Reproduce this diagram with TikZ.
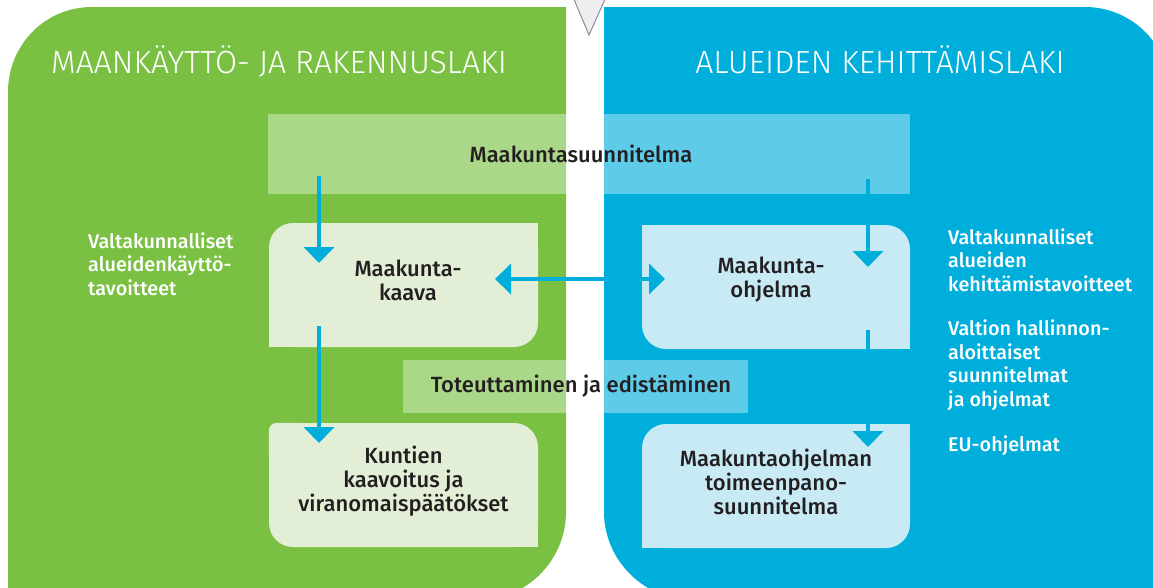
\documentclass[tikz,border=0pt]{standalone}
\usepackage{fontspec}
\setmainfont{Fira Sans}
\IfFontExistsTF{Fira Sans Medium}{\newfontfamily\bodyf{Fira Sans Medium}}{\newfontfamily\bodyf{Fira Sans}[FakeBold=0.6]}
\IfFontExistsTF{Fira Sans Light}{\newfontfamily\titlef{Fira Sans Light}}{\newfontfamily\titlef{Fira Sans}}
\usetikzlibrary{arrows.meta}
\definecolor{pgreen}{RGB}{122,193,67}
\definecolor{pblue}{RGB}{0,174,219}
\definecolor{lgreen}{RGB}{226,239,214}
\definecolor{lblue}{RGB}{200,234,245}
\definecolor{ink}{RGB}{35,31,32}
\definecolor{trifill}{RGB}{238,238,241}
\definecolor{trigray}{RGB}{140,140,146}
\tikzset{
  box/.style={rounded corners=24pt, minimum width=269pt, minimum height=124pt, inner sep=0pt},
  greenbox/.style={box, fill=lgreen},
  bluebox/.style={box, fill=lblue},
  boxtext/.style={align=center, text=ink, inner sep=0pt, font=\bodyf\fontsize{22}{24}\selectfont},
  banner/.style={fill=white, fill opacity=.37, text opacity=1, inner sep=0pt,
    text=ink, font=\bodyf\fontsize{22}{24}\selectfont},
  title/.style={text=white, font=\titlef\fontsize{32}{34}\selectfont, inner sep=0pt, anchor=base},
  side/.style={text=white, align=left, anchor=west, inner sep=0pt,
    font=\bodyf\fontsize{19.8}{23.5}\selectfont},
  link/.style={draw=pblue, line width=4.5pt, -{Triangle[width=30pt,length=16pt]}},
  dlink/.style={draw=pblue, line width=4.5pt, {Triangle[width=30pt,length=16pt]}-{Triangle[width=30pt,length=16pt]}}
}
\begin{document}
\begin{tikzpicture}[x=1pt,y=-1pt]
\useasboundingbox (0,0) rectangle (1153,587);
\clip (0,0) rectangle (1153,587);
% panels
\fill[pgreen] (8,600) -- (8,92) .. controls (8,45) and (45,7) .. (92,7) -- (566,7) -- (566,512)
  .. controls (566,560) and (527,600) .. (478,600) -- cycle;
\fill[pblue] (604,7) -- (1085,7) .. controls (1132,7) and (1170,45) .. (1170,92) -- (1170,600)
  -- (692,600) .. controls (644,600) and (604,560) .. (604,512) -- cycle;
\filldraw[fill=trifill, draw=trigray, line width=1pt] (573,-3) -- (589,35) -- (606,-3);
% titles
\node[title] (t1) at (279,73) {MAANKÄYTTÖ- JA RAKENNUSLAKI};
\node[title] (t2) at (880,73) {ALUEIDEN KEHITTÄMISLAKI};
% banners
\node[banner, minimum width=642pt, minimum height=80pt] (suunn) at (589,154) {Maakuntasuunnitelma\kern16pt\relax};
\node[banner, minimum width=345pt, minimum height=53pt] (toteut) at (575.5,386.5) {\hspace{11pt}Toteuttaminen ja edistäminen};
% boxes
\node[greenbox] (kaava) at (403.5,285) {};
\fill[lgreen] (kaava.north east) rectangle ++(-30,30);
\fill[lgreen] (kaava.south west) rectangle ++(30,-30);
\node[boxtext] (kaavat) at (408,280) {Maakunta-\\kaava};
\node[bluebox, minimum width=268pt] (ohjelma) at (776,287) {};
\fill[lblue] (ohjelma.north west) rectangle ++(30,30);
\fill[lblue] (ohjelma.south east) rectangle ++(-30,-30);
\node[boxtext] (ohjelmat) at (771,280) {Maakunta-\\ohjelma};
\node[greenbox] (kuntien) at (403.5,485) {};
\fill[lgreen] (kuntien.south east) rectangle ++(-30,-30);
\fill[lgreen, rounded corners=8pt] (kuntien.north west) rectangle ++(40,40);
\node[boxtext] (kuntient) at (403.5,481) {Kuntien\\kaavoitus ja\\viranomaispäätökset};
\node[bluebox, minimum width=268pt] (toimeen) at (776,486) {};
\fill[lblue] (toimeen.north east) rectangle ++(-30,30);
\fill[lblue] (toimeen.south west) rectangle ++(30,-30);
\node[boxtext] (toimeent) at (776,482) {Maakuntaohjelman\\toimeenpano-\\suunnitelma};
% side labels
\node[side] (vl) at (88,264) {Valtakunnalliset\\alueidenkäyttö-\\tavoitteet};
\node[side] (vr) at (948,260) {Valtakunnalliset\\alueiden\\kehittämistavoitteet};
\node[side] (vh) at (948,365) {Valtion hallinnon-\\aloittaiset\\suunnitelmat\\ja ohjelmat};
\node[side] (eu) at (948,446) {EU-ohjelmat};
% arrow end points
\coordinate (a1s) at (319,176);
\coordinate (a1e) at (319,263);
\coordinate (a2s) at (319,326);
\coordinate (a2e) at (319,443);
\coordinate (a3s) at (868,179);
\coordinate (a3e) at (868,267);
\coordinate (a4s) at (868,330);
\coordinate (a4e) at (868,447);
\coordinate (ds) at (495,279);
\coordinate (de) at (665,279);
\draw[link] (a1s) -- (a1e);
\draw[link] (a2s) -- (a2e);
\draw[link] (a3s) -- (a3e);
\draw[link] (a4s) -- (a4e);
\draw[dlink] (ds) -- (de);
\end{tikzpicture}
\end{document}
